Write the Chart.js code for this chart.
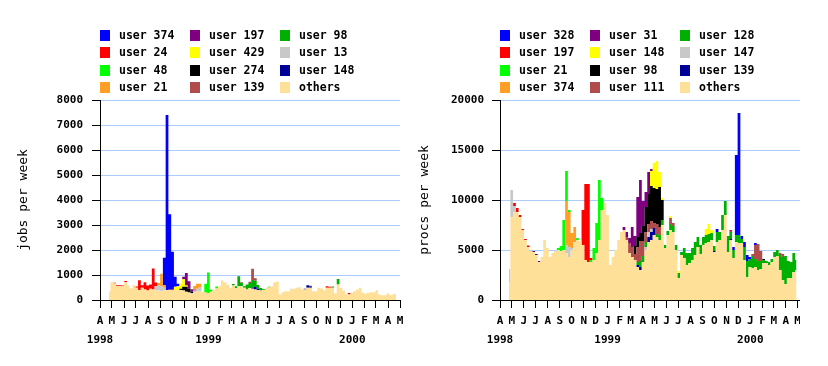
<!DOCTYPE html>
<html><head><meta charset="utf-8">
<script src="https://cdn.jsdelivr.net/npm/chart.js@4/dist/chart.umd.min.js"></script>
<style>
html,body{margin:0;padding:0;background:#fff;}
body{width:828px;height:366px;position:relative;overflow:hidden;}
#c1{position:absolute;left:0;top:0;}
#wrap2{position:absolute;left:414px;top:0;width:386px;height:366px;overflow:hidden;}
#c2{position:absolute;left:0;top:0;}
</style></head><body>
<canvas id="c1" width="414" height="366"></canvas>
<div id="wrap2"><canvas id="c2" width="414" height="366"></canvas></div>
<script>
// ---- categories / tick labels ----
const monthLetters = ['A','M','J','J','A','S','O','N','D','J','F','M','A','M','J','J','A','S','O','N','D','J','F','M','A','M'];
const yearLabels = {0:'1998', 9:'1999', 21:'2000'};
const firstWeek = '1998-04-24';
const weekCount = 106;

const jobsUsers  = ['user 374','user 24','user 48','user 21','user 197','user 429','user 274','user 139','user 98','user 13','user 148','others'];
const procsUsers = ['user 328','user 197','user 21','user 374','user 31','user 148','user 98','user 111','user 128','user 147','user 139','others'];
const palette = ['#0000ff','#ff0000','#00ff00','#ff9f28','#7f007f','#ffff00','#000000','#b04c4c','#00b000','#c8c8c8','#000099','#ffe099'];

// ---- jobs per week (weekly) ----
const jobsU374 = [
0,0,0,0,0,0,0,0,0,0,
0,0,0,0,0,0,0,0,0,0,
1100,7000,3000,1500,400,100,0,0,0,0,
0,0,0,0,0,0,0,0,0,0,
0,0,0,0,0,0,0,0,0,0,
0,0,0,0,0,0,0,0,0,0,
0,0,0,0,0,0,0,0,0,0,
0,0,0,0,0,0,0,0,0,0,
0,0,0,0,0,0,0,0,0,0,
0,0,0,0,0,0,0,0,0,0,
0,0,0,0,0];
const jobsU24 = [
0,0,30,40,40,30,50,0,0,0,
50,400,100,290,200,170,840,150,0,0,
0,0,0,0,0,0,0,0,0,0,
0,0,0,0,0,0,0,0,0,0,
0,0,0,0,0,0,0,0,0,0,
0,0,0,0,0,0,0,0,0,0,
0,0,0,0,0,0,0,0,0,0,
0,0,0,0,0,0,0,0,0,60,
40,0,0,0,0,0,0,60,0,0,
0,0,0,0,0,0,0,0,0,0,
0,0,0,0,0];
const jobsU48 = [
0,0,0,0,0,0,0,0,0,0,
0,0,0,0,0,0,0,0,0,0,
0,0,0,0,0,0,0,0,0,0,
0,0,0,0,0,350,820,80,0,80,
0,0,0,0,0,0,0,0,0,0,
0,0,0,0,0,0,0,0,0,0,
0,0,0,0,0,0,0,0,0,0,
0,0,0,0,0,0,0,0,0,0,
0,0,0,0,0,0,0,0,0,0,
0,0,0,0,0,0,0,0,0,0,
0,0,0,0,0];
const jobsU21 = [
0,0,0,0,0,0,0,0,0,0,
0,0,0,0,0,0,0,0,100,500,
100,0,0,0,0,0,0,0,0,0,
0,150,200,150,0,0,0,0,0,0,
0,0,0,0,0,0,0,0,0,0,
0,0,0,0,0,0,0,0,0,0,
0,0,0,0,0,0,0,0,0,0,
0,0,0,0,0,0,0,0,0,0,
0,0,0,0,0,0,0,0,0,0,
0,0,0,0,0,0,0,0,0,0,
0,0,0,0,0];
const jobsU197 = [
0,0,0,0,0,0,0,0,0,0,
0,0,0,0,0,0,0,0,0,0,
0,0,30,30,0,0,0,100,500,300,
100,30,0,0,0,0,0,0,0,0,
0,0,0,0,0,0,0,0,0,0,
0,0,0,0,0,0,0,0,0,0,
0,0,0,0,0,0,0,0,0,0,
0,0,0,0,0,0,0,0,0,0,
0,0,0,0,0,0,0,0,0,0,
0,0,0,0,0,0,0,0,0,0,
0,0,0,0,0];
const jobsU429 = [
0,0,0,0,0,0,0,0,0,0,
0,0,0,0,0,0,0,0,0,0,
0,0,0,0,150,150,200,300,50,0,
0,0,0,0,0,0,0,0,0,0,
0,0,0,0,0,0,0,0,0,0,
0,0,0,0,0,0,0,0,0,0,
0,0,0,0,0,0,0,0,0,0,
0,0,0,0,0,0,0,0,0,0,
0,0,0,0,0,0,0,0,0,0,
0,0,0,0,0,0,0,0,0,0,
0,0,0,0,0];
const jobsU274 = [
0,0,0,0,0,0,0,0,0,0,
0,0,0,0,0,0,0,0,0,0,
0,0,0,0,0,0,50,150,200,150,
50,0,0,0,0,0,0,0,0,0,
0,0,0,0,0,0,0,0,0,0,
0,0,0,0,0,0,0,0,0,0,
0,0,0,0,0,0,0,0,0,0,
0,0,0,0,0,0,0,0,0,0,
0,0,0,0,0,0,0,0,0,0,
0,0,0,0,0,0,0,0,0,0,
0,0,0,0,0];
const jobsU139 = [
0,0,0,0,0,0,0,0,0,0,
0,0,0,0,0,0,0,0,0,0,
0,0,0,0,0,0,0,0,0,0,
0,0,0,0,0,0,0,0,0,0,
0,0,0,0,0,0,0,0,30,0,
0,50,450,100,0,0,0,0,0,0,
0,0,0,0,0,0,0,0,0,0,
0,0,0,0,0,0,0,0,0,0,
0,0,0,0,0,0,0,0,0,0,
0,0,0,0,0,0,0,0,0,0,
0,0,0,0,0];
const jobsU98 = [
0,0,0,0,0,0,0,0,0,0,
0,0,0,0,0,0,0,0,0,0,
0,0,0,0,0,0,0,0,0,0,
0,0,0,0,0,0,0,0,0,0,
0,0,0,0,0,60,80,400,130,60,
200,200,300,250,150,80,30,0,30,0,
0,0,0,0,0,0,0,0,0,0,
0,0,0,0,0,0,0,0,0,0,
0,50,0,220,0,0,0,0,0,0,
0,0,0,0,0,0,0,0,0,0,
0,0,0,0,0];
const jobsU13 = [
0,0,0,0,0,0,0,0,0,0,
0,0,0,0,0,0,0,170,200,200,
100,0,0,0,0,0,0,0,0,0,
30,80,100,150,0,0,0,0,0,0,
0,0,0,0,0,0,0,0,0,0,
0,0,0,0,0,0,0,0,0,0,
0,0,0,0,0,0,30,0,0,0,
0,0,0,40,0,0,0,0,0,0,
0,0,0,0,0,0,0,0,0,0,
0,0,0,0,0,0,0,0,0,0,
0,0,0,0,0];
const jobsU148 = [
0,0,0,0,0,0,0,0,0,0,
0,0,0,0,0,0,0,0,0,0,
0,0,0,0,0,0,0,0,0,0,
0,0,0,0,0,0,0,0,0,0,
0,0,0,0,0,0,0,0,0,0,
0,0,50,100,50,20,0,0,0,0,
0,0,0,0,0,0,0,0,0,0,
0,30,100,60,0,0,0,0,0,0,
0,0,0,0,0,0,0,0,0,0,
0,0,0,0,0,0,0,0,0,0,
0,0,0,0,0];
const jobsOthers = [
350,710,660,550,550,550,710,580,460,590,
490,390,490,420,380,450,420,380,380,350,
390,400,400,400,380,400,400,380,330,300,
250,300,350,350,320,300,280,330,420,460,
550,780,710,620,490,580,470,550,550,490,
420,480,450,420,400,380,400,490,500,550,
710,740,220,310,350,350,420,450,490,510,
420,420,490,490,350,350,490,460,390,490,
490,490,260,620,490,380,220,220,290,350,
420,490,290,260,290,310,310,390,220,190,
190,260,190,220,260];

// ---- procs per week (weekly) ----
const procsU328 = [
0,0,0,0,0,0,0,0,0,0,
0,0,0,0,0,0,0,0,0,0,
0,0,0,0,0,0,0,0,0,0,
0,0,0,0,0,0,0,0,0,0,
0,0,0,0,0,0,0,0,0,0,
0,0,0,0,0,0,0,0,0,0,
0,0,0,0,0,0,0,0,0,0,
0,0,0,0,0,0,300,0,0,0,
0,0,300,8000,12200,300,500,600,200,0,
200,0,0,0,0,0,0,0,0,0,
0,0,0,0,0,0];
const procsU197 = [
0,0,300,400,200,100,100,150,0,0,
0,0,0,0,0,0,0,0,0,0,
0,0,0,0,0,0,0,3500,7600,7800,
200,0,0,0,0,0,0,0,0,0,
0,0,0,0,0,0,0,0,0,0,
0,0,0,0,0,0,0,0,0,0,
0,0,0,0,0,0,0,0,0,0,
0,0,0,0,0,0,0,0,0,0,
0,100,0,0,0,0,0,0,0,0,
0,0,0,0,0,0,0,0,0,0,
0,0,0,0,0,0];
const procsU21 = [
0,0,0,0,0,0,0,0,0,0,
0,0,0,0,0,0,0,0,200,500,
3000,3000,200,0,0,200,0,0,0,0,
200,1200,3000,6000,1200,0,0,0,0,0,
0,0,0,0,0,0,0,0,0,0,
0,0,0,0,0,0,0,0,0,0,
0,0,0,0,0,0,0,0,0,0,
0,0,0,0,0,0,0,0,0,0,
0,0,0,0,0,0,0,0,0,0,
0,0,0,0,0,0,0,0,0,0,
0,0,0,0,0,0];
const procsU374 = [
0,0,0,0,0,0,0,0,0,0,
0,0,0,0,0,0,0,0,0,0,
0,4400,3500,1500,1500,0,0,0,0,0,
0,0,0,0,0,0,0,0,0,0,
0,0,0,0,0,0,0,0,0,0,
0,0,0,0,0,0,0,0,0,0,
0,0,0,0,0,0,0,0,0,0,
0,0,0,0,0,0,0,0,0,0,
0,0,0,0,0,0,0,0,0,0,
0,0,0,0,0,0,0,0,0,0,
0,0,0,0,0,0];
const procsU31 = [
0,0,0,0,0,0,0,0,0,100,
100,100,0,0,0,0,0,0,0,0,
0,0,0,0,0,0,0,0,0,0,
0,0,0,0,0,0,0,0,0,0,
0,0,300,500,500,2000,1000,4000,5300,2500,
1500,2200,200,0,0,0,0,0,0,0,
0,0,0,0,0,0,0,0,0,0,
0,0,0,0,0,0,0,0,0,0,
0,0,0,0,0,0,0,0,0,0,
0,0,0,0,0,0,0,0,0,0,
0,0,0,0,0,0];
const procsU148 = [
0,0,0,0,0,0,0,0,0,0,
0,0,0,0,0,0,0,0,0,0,
0,0,0,0,0,0,0,0,0,0,
0,0,0,0,0,0,0,0,0,0,
0,0,0,0,0,0,0,0,0,0,
0,0,1500,2500,2800,1500,200,0,0,200,
0,0,200,0,0,0,0,0,0,0,
0,0,600,1000,300,0,0,0,0,0,
0,0,0,0,0,0,0,0,0,0,
0,0,0,0,0,0,0,0,0,0,
0,0,0,0,0,0];
const procsU98 = [
0,0,0,0,0,0,0,0,0,0,
0,0,0,0,0,0,0,0,0,0,
0,0,0,0,0,0,0,0,0,0,
0,0,0,0,0,0,0,0,0,0,
0,0,0,0,0,0,800,1000,800,1500,
2500,3000,3500,3500,3500,4000,2000,0,0,0,
0,0,0,0,0,0,0,0,0,0,
0,0,0,0,0,0,0,0,0,0,
0,0,0,0,0,0,0,0,0,0,
0,0,0,100,0,0,0,0,0,0,
0,0,0,0,0,0];
const procsU111 = [
0,0,0,0,0,0,0,0,0,0,
0,0,0,0,0,0,0,0,0,0,
0,0,0,0,0,0,0,0,0,0,
0,0,0,0,0,0,0,0,0,0,
0,0,0,300,1000,1000,600,1500,2000,1500,
1000,800,800,500,1000,800,0,0,0,600,
300,0,0,0,0,0,0,0,0,0,
0,0,0,0,0,0,0,0,0,0,
0,100,0,0,0,0,0,0,0,200,
1400,1700,1000,0,0,0,0,0,0,200,
300,0,0,0,0,0];
const procsU128 = [
0,0,0,0,0,0,0,0,0,0,
0,0,0,0,0,0,0,0,0,0,
0,0,0,0,0,0,0,0,0,0,
0,0,0,0,0,0,0,0,0,0,
0,0,0,0,0,0,0,300,600,600,
500,0,0,0,300,500,500,300,400,600,
600,500,500,300,1000,1200,1000,1200,1300,1000,
900,800,800,800,700,500,1000,800,1500,1400,
1600,700,800,700,800,400,1300,1600,800,1200,
800,900,800,300,200,300,300,500,600,1500,
2300,2800,1700,1600,1900,1000];
const procsU147 = [
1300,2700,600,0,0,0,0,0,0,0,
0,0,0,0,0,0,0,0,0,0,
0,800,1000,200,0,0,0,0,0,0,
0,0,0,0,0,0,0,0,0,0,
0,0,0,0,0,0,0,0,0,0,
300,500,300,0,0,0,0,0,0,0,
0,0,0,0,0,0,0,0,0,0,
0,0,0,0,0,0,0,0,0,0,
0,0,0,0,0,0,0,0,0,0,
0,0,0,0,0,0,0,0,0,0,
0,0,0,0,0,0];
const procsU139 = [
0,0,0,0,0,0,0,0,0,0,
0,0,0,0,0,0,0,0,0,0,
0,0,0,0,0,0,0,0,0,0,
0,0,0,0,0,0,0,0,0,0,
0,0,0,0,0,0,0,200,300,0,
0,500,800,700,0,0,0,0,0,0,
0,0,0,0,0,0,0,0,0,0,
0,0,0,0,0,100,0,0,0,0,
0,100,0,0,0,0,0,0,0,0,
0,0,0,0,0,0,0,0,0,0,
0,0,0,0,0,0];
const procsOthers = [
1800,8300,8800,8800,8300,7000,6000,5300,4900,4800,
4500,3800,4300,6000,5200,4300,4700,4900,5000,4900,
5000,4700,4300,5000,5800,6000,5900,5500,4000,3800,
3800,4000,4700,6000,9000,9700,8500,3500,4300,5000,
6000,6800,7000,6000,4700,4300,4000,3300,3000,3800,
5000,5800,6000,6500,6300,6000,7500,5200,6500,7000,
6800,5000,2200,4500,4200,3500,3700,4000,4500,5300,
4600,5500,5700,5800,6000,4800,5800,6000,7000,8500,
4800,6000,4200,5800,5700,5700,4000,2300,3300,3200,
3300,3000,3100,3700,3700,3500,3800,4300,4400,3000,
2000,1600,2200,2200,2800,3000];

const jobsSeries  = [jobsU374, jobsU24, jobsU48, jobsU21, jobsU197, jobsU429, jobsU274, jobsU139, jobsU98, jobsU13, jobsU148, jobsOthers];
const procsSeries = [procsU328, procsU197, procsU21, procsU374, procsU31, procsU148, procsU98, procsU111, procsU128, procsU147, procsU139, procsOthers];

// ---- helpers ----
const DAY = 86400000;
const originMs = Date.UTC(1998, 3, 1);
const monthDays = monthLetters.map((_, k) => (Date.UTC(1998, 3 + k, 1) - originMs) / DAY);
const w0 = (Date.parse(firstWeek + 'T00:00:00Z') - originMs) / DAY;
const weekDays = [];
for (let i = 0; i < weekCount; i++) weekDays.push(w0 + 7 * i);

const MONO = '"DejaVu Sans Mono", "Liberation Mono", monospace';

function makeDatasets(labels, series) {
  const ds = [];
  for (let k = series.length - 1; k >= 0; k--) {
    ds.push({
      label: labels[k],
      data: series[k].map((v, i) => ({x: weekDays[i], y: v})),
      backgroundColor: palette[k],
      borderColor: 'rgba(0,0,0,0)',
      borderWidth: 0,
      pointRadius: 0,
      pointHoverRadius: 0,
      stepped: 'middle',
      fill: ds.length === 0 ? 'origin' : '-1'
    });
  }
  return ds;
}

function legendPlugin(labels, x0) {
  return {
    id: 'gridLegend',
    afterDraw(chart) {
      const ctx = chart.ctx;
      const rowTops = [30, 47, 65, 82];
      ctx.save();
      ctx.font = 'bold 11.5px ' + MONO;
      ctx.textBaseline = 'middle';
      ctx.textAlign = 'left';
      labels.forEach((lab, k) => {
        const col = Math.floor(k / 4), row = k % 4;
        const x = x0 + col * 90, y = rowTops[row];
        ctx.fillStyle = palette[k];
        ctx.fillRect(x, y, 10, 11);
        ctx.fillStyle = '#000';
        ctx.fillText(lab, x + 19, y + 6);
      });
      ctx.restore();
    }
  };
}

function makeChart(canvas, labels, series, o) {
  return new Chart(canvas, {
    type: 'line',
    data: {datasets: makeDatasets(labels, series)},
    options: {
      responsive: false,
      animation: false,
      devicePixelRatio: 1,
      events: [],
      layout: {padding: {top: 100, right: o.padRight, left: 0, bottom: 0}, autoPadding: false},
      plugins: {legend: {display: false}, tooltip: {enabled: false}},
      scales: {
        x: {
          type: 'linear', min: 0, max: o.xMax,
          afterBuildTicks: s => { s.ticks = monthDays.map(v => ({value: v})); },
          afterFit: s => { s.height = 66; },
          grid: {drawOnChartArea: false, color: '#000', tickLength: 8},
          border: {color: '#000'},
          ticks: {
            autoSkip: false, maxRotation: 0, minRotation: 0, padding: 4, color: '#000',
            font: {family: MONO, weight: 'bold', size: 11, lineHeight: '19px'},
            callback: (v, idx) => yearLabels[idx] ? [monthLetters[idx], yearLabels[idx]] : monthLetters[idx]
          }
        },
        y: {
          stacked: true, min: 0, max: o.yMax,
          afterFit: s => { s.width = o.yWidth; },
          grid: {color: '#aaccff', tickColor: '#000', tickLength: 8},
          border: {color: '#000'},
          ticks: {stepSize: o.yStep, padding: o.yPad, color: '#000',
                  font: {family: MONO, weight: 'bold', size: 11},
                  callback: v => String(v)},
          title: {display: true, text: o.title, color: '#000',
                  padding: {top: o.titlePad, bottom: 0},
                  font: {family: MONO, size: 13, lineHeight: 1.2}}
        }
      }
    },
    plugins: [legendPlugin(labels, o.legendX)]
  });
}

makeChart(document.getElementById('c1'), jobsUsers, jobsSeries,
  {xMax: 761, padRight: 14, yMax: 8000, yStep: 1000, yWidth: 100, yPad: 9, title: 'jobs per week', titlePad: 16, legendX: 100});
makeChart(document.getElementById('c2'), procsUsers, procsSeries,
  {xMax: 767, padRight: 28, yMax: 20000, yStep: 5000, yWidth: 86, yPad: 8, title: 'procs per week', titlePad: 3, legendX: 86});
</script>
</body></html>
